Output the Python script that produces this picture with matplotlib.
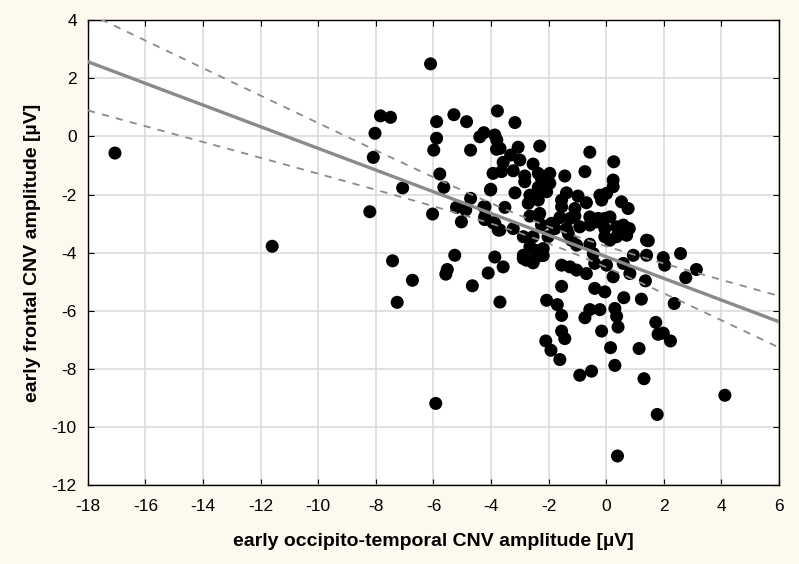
import numpy as np
import matplotlib.pyplot as plt

plt.rcParams['font.family'] = ['Liberation Sans', 'DejaVu Sans']
plt.rcParams['axes.unicode_minus'] = False

# early occipito-temporal CNV amplitude (x) and early frontal CNV amplitude (y), in uV
x_vals = [
    -17.06, -11.60, -5.92,
    -6.10, -7.84, -7.49, -8.03, -8.09, -8.21, -7.07, -5.89, -5.89, -5.99, -5.29, -4.85, -4.71,
    -5.78, -5.64, -6.03, -5.20, -4.88, -4.71, -4.25, -4.02, -3.93, -4.39, -4.25, -3.87, -3.80,
    -3.78, -3.81, -4.22,
    -3.17, -3.69, -3.06, -2.31, -0.57, 0.26, -3.32, -3.00, -3.58, -2.54, -3.64, -3.23, -2.83,
    -2.36, -1.96, -1.44, -0.74, 0.24, 0.24, -2.83, -1.96, -2.36, -2.25, -4.01, -3.17, -2.65,
    -2.07, -1.38, -0.98, -0.22, 0.01, -0.16, 0.53, 0.76, -1.55, -1.55, -1.09, -0.69, -2.71,
    -2.36, -2.31, -4.21, -3.52, -1.61, -1.26, -1.09, -0.57, -0.28, -0.05, 0.13, -2.65, -2.36,
    -4.21, -3.87, -3.69, -3.23, -2.25, -1.90, -1.78, -1.38, -1.32, -0.92, -0.57, -0.34, -0.05,
    0.36, 0.71, -2.88, -2.54, -2.65, -2.88, -2.77, -2.42, -2.48, -2.19, -2.02, -1.21, -1.03,
    -0.57, -0.05, 0.13, 0.36, 0.71, 0.94, 1.40, 1.40, -0.45, -0.40, -1.55, -1.26, -1.03,
    -0.69, 0.01, 0.24, 0.59, 0.82, -3.87, -3.58, -4.10,
    -3.69, -1.55, -0.40, -0.05, 0.61, 1.22, 1.36, 2.36, 2.76, 3.13, 2.03, -2.07, -1.70,
    -1.55, -0.57, -0.22, -0.74, 0.30, 0.36, 0.41, -1.55, -1.44, -0.16, -2.10, -1.92, -1.61,
    -0.92, -0.51, 0.15, 0.30, 1.14, 1.31, 1.72, 1.80, 1.98, 2.23, 1.77, 0.39,
    -5.03, -4.22, -3.93, -3.75, -7.42, -6.73, -7.26, -5.26, -5.52, -5.57, -4.65,
    1.46, 1.98, 2.58, 4.12,
    0.59, 0.80, 0.65, -2.25, -2.88, -2.54, -2.19,
]
y_vals = [
    -0.57, -3.78, -9.19,
    2.50, 0.71, 0.66, 0.11, -0.72, -2.59, -1.77, 0.51, -0.06, -0.47, 0.75, 0.51, -0.47,
    -1.29, -1.75, -2.67, -2.44, -2.53, -2.13, -2.42, -1.84, -1.27, -0.01, 0.13, 0.05, -0.12,
    0.88, -0.44, -2.76,
    0.48, -0.41, -0.37, -0.33, -0.54, -0.87, -0.64, -0.81, -0.89, -0.95, -1.21, -1.18, -1.36,
    -1.27, -1.27, -1.36, -1.21, -1.50, -1.73, -1.56, -1.61, -1.75, -1.87, -1.82, -1.94, -2.02,
    -1.90, -1.94, -2.05, -2.02, -1.96, -2.19, -2.25, -2.48, -2.19, -2.42, -2.48, -2.28, -2.30,
    -2.19, -2.65, -2.42, -2.44, -2.79, -2.82, -2.74, -2.77, -2.82, -2.82, -2.77, -2.74, -2.74,
    -2.82, -2.99, -3.22, -3.17, -3.05, -2.99, -3.17, -3.17, -3.34, -3.11, -3.05, -2.94, -3.17,
    -3.11, -3.17, -3.45, -3.45, -3.80, -4.09, -4.26, -4.15, -3.91, -3.86, -3.45, -3.57, -3.74,
    -3.71, -3.45, -3.57, -3.45, -3.40, -4.09, -4.09, -3.57, -4.03, -4.37, -4.43, -4.49, -4.60,
    -4.72, -4.43, -4.83, -4.37, -4.72, -4.15, -4.49, -4.70,
    -5.70, -5.16, -5.23, -5.35, -5.55, -5.60, -4.97, -5.75, -4.86, -4.58, -4.43, -5.64, -5.79,
    -6.16, -5.96, -5.96, -6.24, -5.92, -6.19, -6.56, -6.70, -6.96, -6.70, -7.04, -7.36, -7.68,
    -8.22, -8.08, -7.27, -7.88, -7.30, -8.34, -6.40, -6.81, -6.77, -7.04, -9.57, -11.00,
    -2.94, -2.86, -2.97, -3.22, -4.28, -4.95, -5.71, -4.09, -4.58, -4.74, -5.14,
    -3.59, -4.17, -4.03, -8.91,
    -3.05, -3.17, -3.34, -1.45, -4.20, -4.35, -4.10,
]

x = np.array(x_vals)
y = np.array(y_vals)

# linear fit with 95% confidence band
n = len(x)
slope, icpt = np.polyfit(x, y, 1)
resid = y - (icpt + slope * x)
s = np.sqrt(np.sum(resid ** 2) / (n - 2))
sxx = np.sum((x - x.mean()) ** 2)
xl = np.linspace(-18, 6, 200)
yl = icpt + slope * xl
half = 1.97 * s * np.sqrt(1.0 / n + (xl - x.mean()) ** 2 / sxx)

fig = plt.figure(figsize=(7.99, 5.64), dpi=100, facecolor='#fdf9ee')
ax = fig.add_axes([0.110, 0.140, 0.865, 0.824])
ax.set_facecolor('white')

ax.grid(True, color='#d9d9d9', lw=1.1)
ax.set_axisbelow(True)

ax.scatter(x, y, s=88, c='black', edgecolors='none', zorder=3)
ax.plot(xl, yl, color='#8a8a8a', lw=2.4, zorder=4)
ax.plot(xl, yl + half, color='#8a8a8a', lw=1.3, ls=(0, (4, 4)), zorder=4)
ax.plot(xl, yl - half, color='#8a8a8a', lw=1.3, ls=(0, (4, 4)), zorder=4)

ax.set_xlim(-18, 6)
ax.set_ylim(-12, 4)
ax.set_xticks(np.arange(-18, 7, 2))
ax.set_yticks(np.arange(-12, 5, 2))
ax.tick_params(direction='in', top=True, right=True, length=4, labelsize=12.5, colors='black')
ax.tick_params(axis='x', pad=10)
ax.tick_params(axis='y', pad=8)
for sp in ax.spines.values():
    sp.set_color('black')
    sp.set_linewidth(1.0)

ax.set_xlabel('early occipito-temporal CNV amplitude [µV]', fontsize=14, fontweight='bold', labelpad=14)
ax.set_ylabel('early frontal CNV amplitude [µV]', fontsize=14, fontweight='bold', labelpad=8)

fig.savefig('out.png', dpi=100, facecolor=fig.get_facecolor())
